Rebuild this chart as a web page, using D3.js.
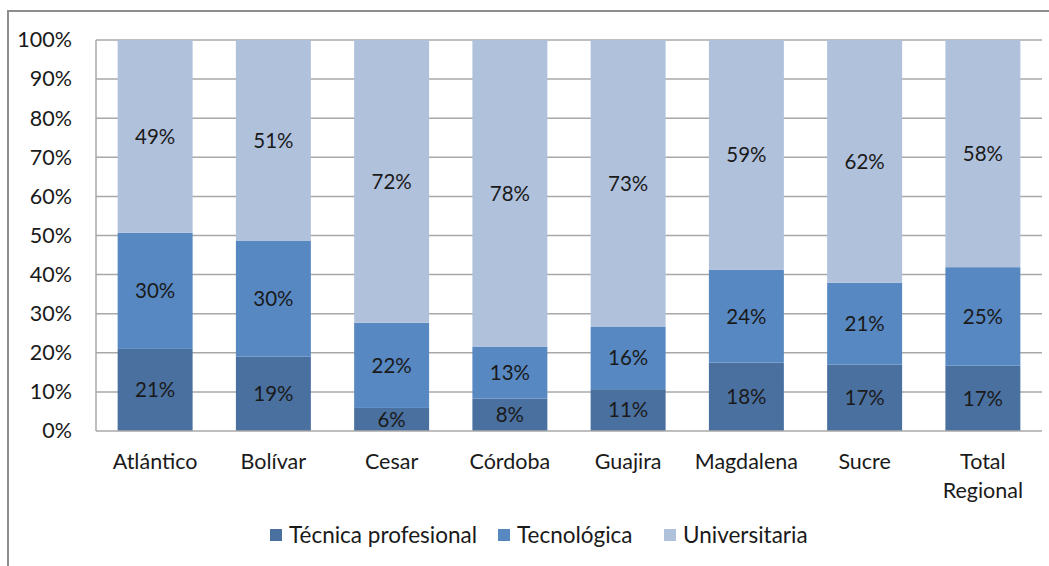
<!DOCTYPE html>
<html><head><meta charset="utf-8">
<script src="https://cdn.jsdelivr.net/npm/d3@7"></script>
<style>body{margin:0;background:#fff}svg{display:block}text{font-family:Lato,"Open Sans",sans-serif;fill:#1a1a1a}</style>
</head><body><svg id="c" width="1049" height="566"></svg>
<script>
const categories = ["Atlántico","Bolívar","Cesar","Córdoba","Guajira","Magdalena","Sucre","Total Regional"];
const seriesNames = ["Técnica profesional","Tecnológica","Universitaria"];
const tecnicaProfesional = [21.0,19.0,5.9,8.3,10.7,17.5,17.0,16.7];
const tecnologica = [29.7,29.6,21.8,13.3,15.9,23.7,20.9,25.2];
const universitaria = [49.3,51.4,72.3,78.4,73.4,58.8,62.1,58.1];
const labelTecnica = ["21%","19%","6%","8%","11%","18%","17%","17%"];
const labelTecnologica = ["30%","30%","22%","13%","16%","24%","21%","25%"];
const labelUniversitaria = ["49%","51%","72%","78%","73%","59%","62%","58%"];
const yTicks = [0,10,20,30,40,50,60,70,80,90,100];
const colors = ["#4a70a0","#5788c2","#b0c1dc"];

const svg = d3.select("#c");
const M = {left:96,right:1042,top:40,bottom:431};
const x = d3.scaleBand().domain(categories).range([M.left,M.right]).paddingInner(0.366).paddingOuter(0.183);
const y = d3.scaleLinear().domain([0,100]).range([M.bottom,M.top]);

// frame
svg.append("rect").attr("x",8).attr("y",11).attr("width",1060).attr("height",580)
  .attr("fill","none").attr("stroke","#8e8e8e").attr("stroke-width",2);

// gridlines
svg.append("g").selectAll("line").data(yTicks.filter(d=>d>0)).join("line")
  .attr("x1",M.left).attr("x2",M.right).attr("y1",d=>y(d)).attr("y2",d=>y(d))
  .attr("stroke","#a8a8a8").attr("stroke-width",1.5);

const data = categories.map((c,i)=>({cat:c,
  "Técnica profesional":tecnicaProfesional[i],"Tecnológica":tecnologica[i],"Universitaria":universitaria[i]}));
const labels = [labelTecnica,labelTecnologica,labelUniversitaria];
const stack = d3.stack().keys(seriesNames)(data);

const g = svg.append("g");
stack.forEach((s,si)=>{
  g.append("g").selectAll("rect").data(s).join("rect")
    .attr("x",d=>x(d.data.cat)).attr("width",x.bandwidth())
    .attr("y",d=>y(d[1])).attr("height",d=>y(d[0])-y(d[1]))
    .attr("fill",colors[si]);
});
stack.forEach((s,si)=>{
  g.append("g").selectAll("text").data(s).join("text")
    .attr("x",d=>x(d.data.cat)+x.bandwidth()/2)
    .attr("y",d=>(y(d[0])+y(d[1]))/2)
    .attr("dy","0.36em").attr("text-anchor","middle").attr("font-size",20.5)
    .text((d,i)=>labels[si][i]);
});

// axes lines
svg.append("line").attr("x1",M.left).attr("x2",M.left).attr("y1",M.top).attr("y2",M.bottom)
  .attr("stroke","#a8a8a8").attr("stroke-width",1.5);
svg.append("line").attr("x1",M.left).attr("x2",M.right).attr("y1",M.bottom).attr("y2",M.bottom)
  .attr("stroke","#a8a8a8").attr("stroke-width",1.5);

// y tick labels
const yAxis = d3.axisLeft(y).tickValues(yTicks).tickFormat(d=>d+"%").tickSize(0).tickPadding(24);
const ya = svg.append("g").attr("transform",`translate(${M.left},0)`).call(yAxis);
ya.select(".domain").remove();
ya.selectAll("text").attr("font-size",21.5).style("font-family","Lato, sans-serif").attr("fill","#1a1a1a");

// x labels
const xa = svg.append("g");
categories.forEach(c=>{
  const parts = c==="Total Regional" ? ["Total","Regional"] : [c];
  const t = xa.append("text").attr("x",x(c)+x.bandwidth()/2).attr("y",469)
    .attr("text-anchor","middle").attr("font-size",21.5);
  parts.forEach((p,i)=>t.append("tspan").attr("x",x(c)+x.bandwidth()/2).attr("dy",i?29:0).text(p));
});

// legend
const legX = [270,498,664];
const leg = svg.append("g");
seriesNames.forEach((n,i)=>{
  leg.append("rect").attr("x",legX[i]).attr("y",529).attr("width",12).attr("height",12).attr("fill",colors[i]);
  leg.append("text").attr("x",legX[i]+19).attr("y",535).attr("dy","0.36em").attr("font-size",22.5).text(n);
});
</script></body></html>
